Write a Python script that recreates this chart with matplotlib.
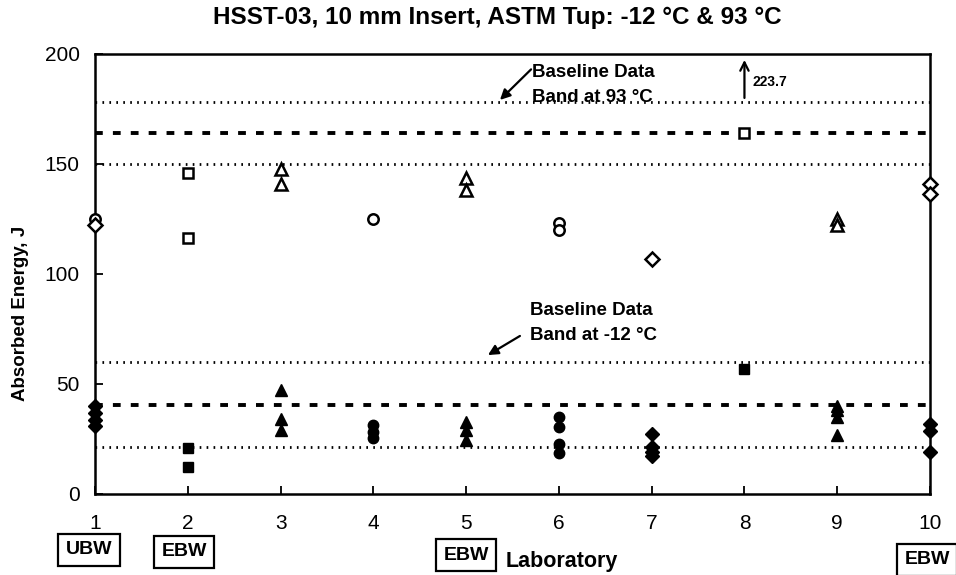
import matplotlib
matplotlib.use("Agg")
import matplotlib.pyplot as plt
from matplotlib import transforms

plt.rcParams["font.family"] = ["Liberation Sans", "DejaVu Sans"]

# Charpy data per laboratory; one marker character per specimen
labs = [1, 2, 3, 4, 5, 6, 7, 8, 9, 10]
energy_93 = [
    [125, 122], [145.7, 116.3], [147.6, 141.0], [124.8], [143.8, 138.2],
    [123, 120], [106.9], [164.1], [125, 122], [141, 136.5],
]
markers_93 = ["oD", "ss", "^^", "o", "^^", "oo", "D", "s", "^^", "DD"]
energy_m12 = [
    [39.9, 36.5, 33.5, 30.7], [20.9, 12.2], [46.9, 33.7, 28.7],
    [31.2, 28.1, 25.1], [32.6, 28.8, 24.2], [34.6, 30.1, 22.4, 18.3],
    [27, 21, 19, 17], [56.5], [40, 38, 35, 26.5], [31.8, 28.3, 18.7],
]
markers_m12 = ["DDDD", "ss", "^^^", "ooo", "^^^", "oooo", "DDDD", "s", "^^^^", "DDD"]

# baseline bands (lower, mean, upper)
band_93 = [150, 164, 178]
band_m12 = [21, 40.5, 60]

weld_labs = [1, 2, 5, 10]
weld_text = ["UBW", "EBW", "EBW", "EBW"]

off_scale_lab = 8
off_scale_value = 223.7

fig = plt.figure(figsize=(9.56, 5.75), dpi=100)
ax = fig.add_axes([0.0994, 0.1417, 0.8734, 0.7644])
ax.set_xlim(1, 10)
ax.set_ylim(0, 200)

dotted = (0, (0.6, 1.9))
dashed = (0, (2.0, 2.6))
for lo, mid, hi in (band_93, band_m12):
    ax.axhline(lo, color="black", ls=dotted, lw=2.0, zorder=1)
    ax.axhline(hi, color="black", ls=dotted, lw=2.0, zorder=1)
    ax.axhline(mid, color="black", ls=dashed, lw=2.8, zorder=1)

for lab, vals, marks in zip(labs, energy_93, markers_93):
    for v, m in zip(vals, marks):
        ax.plot(lab, v, marker=m, ms=7.5 if m != "^" else 8.5, mfc="white",
                mec="black", mew=1.8, ls="none", clip_on=False, zorder=3)

for lab, vals, marks in zip(labs, energy_m12, markers_m12):
    for v, m in zip(vals, marks):
        ax.plot(lab, v, marker=m, ms=7.5 if m != "^" else 9, mfc="black",
                mec="black", ls="none", clip_on=False, zorder=3)

ax.set_xticks(labs)
ax.set_yticks([0, 50, 100, 150, 200])
ax.tick_params(axis="both", direction="in", length=6, width=1.3,
               labelsize=15)
ax.tick_params(axis="x", pad=15)
ax.tick_params(axis="y", pad=11)
for s in ax.spines.values():
    s.set_linewidth(1.8)

fig.text(0.52, 0.970, "HSST-03, 10 mm Insert, ASTM Tup: -12 °C & 93 °C",
         ha="center", va="center", fontsize=17.5, fontweight="bold")
fig.text(0.021, 1 - 313 / 575, "Absorbed Energy, J", rotation=90,
         ha="center", va="center", fontsize=13.5, fontweight="bold")

# baseline band callouts
ax.text(5.71, 191.8, "Baseline Data", ha="left", va="center",
        fontsize=13.5, fontweight="bold")
ax.text(5.71, 180.0, "Band at 93 °C", ha="left", va="center",
        fontsize=13.5, fontweight="bold")
ax.annotate("", xy=(5.365, 179.1), xytext=(5.70, 193),
            arrowprops=dict(arrowstyle="-|>", color="black", lw=1.6,
                            mutation_scale=15, shrinkA=0, shrinkB=0))
ax.text(5.69, 83.5, "Baseline Data", ha="left", va="center",
        fontsize=13.5, fontweight="bold")
ax.text(5.69, 72.1, "Band at -12 °C", ha="left", va="center",
        fontsize=13.5, fontweight="bold")
ax.annotate("", xy=(5.235, 63.0), xytext=(5.58, 71.7),
            arrowprops=dict(arrowstyle="-|>", color="black", lw=1.6,
                            mutation_scale=15, shrinkA=0, shrinkB=0))

# value above the axis range
ax.annotate("", xy=(off_scale_lab, 197.3), xytext=(off_scale_lab, 180),
            arrowprops=dict(arrowstyle="->", color="black", lw=1.6,
                            mutation_scale=15, shrinkA=0, shrinkB=0))
ax.text(off_scale_lab + 0.09, 187.3, f"{off_scale_value:.1f}", ha="left",
        va="center", fontsize=10, fontweight="bold")

# weld type boxes under the lab numbers
trans = transforms.blended_transform_factory(ax.transData, fig.transFigure)
box_x = [0.935, 1.96, 5.0, 9.97]
box_y = [550, 552, 555, 560]
for xb, yb, t in zip(box_x, box_y, weld_text):
    ax.text(xb, 1 - yb / 575, t, transform=trans, ha="center", va="center",
            fontsize=14, fontweight="bold",
            bbox=dict(boxstyle="square,pad=0.38", fc="white", ec="black", lw=1.6))

ax.text(5.43, 1 - 561 / 575, "Laboratory", transform=trans, ha="left",
        va="center", fontsize=15.5, fontweight="bold")

fig.savefig("out.png", dpi=100)
